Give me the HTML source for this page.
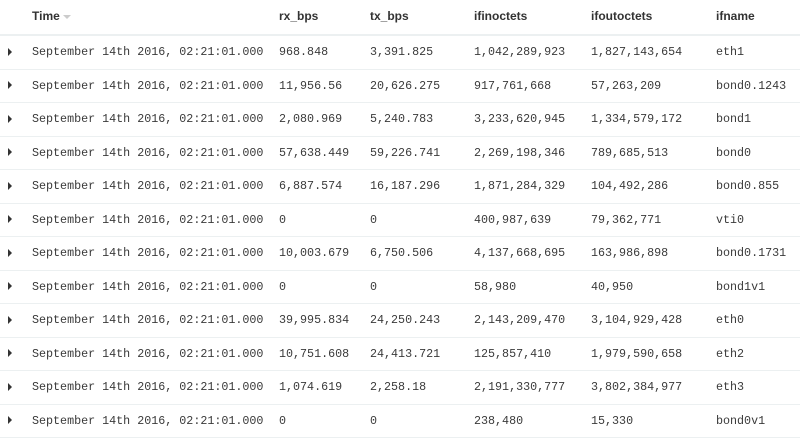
<!DOCTYPE html>
<html><head><meta charset="utf-8"><style>
body{margin:0;width:800px;height:433px;overflow:hidden;background:#fff;font-family:"Liberation Sans",sans-serif;}
table{border-collapse:collapse;position:absolute;left:0;top:0;width:800px;}
th{height:32px;text-align:left;font-weight:bold;font-size:12px;color:#333;border-bottom:2px solid #ecf0f1;padding:0 0 2px 0;}
td{height:32.5px;padding:0;font-family:"Liberation Mono",monospace;font-size:11.7px;color:#3a3a3a;border-bottom:1px solid #ecf0f1;white-space:nowrap;}
.tg{width:32px;text-align:left;padding-left:8px;box-sizing:border-box;font-size:8px;}
.tri{display:inline-block;width:0;height:0;vertical-align:middle;border-left:4px solid #333;border-top:4px solid transparent;border-bottom:4px solid transparent;}
.sort{display:inline-block;width:0;height:0;border-top:4px solid #ccc;border-left:4px solid transparent;border-right:4px solid transparent;margin-left:3px;vertical-align:middle;}
</style></head><body>
<table>
<colgroup><col style="width:32px"><col style="width:247px"><col style="width:91px"><col style="width:104px"><col style="width:117px"><col style="width:125px"><col></colgroup>
<thead><tr>
<th></th>
<th>Time<span class="sort"></span></th>
<th>rx_bps</th>
<th>tx_bps</th>
<th>ifinoctets</th>
<th>ifoutoctets</th>
<th>ifname</th>
</tr></thead>
<tbody id="tb"></tbody>
</table>
<script>
const rx=["968.848","11,956.56","2,080.969","57,638.449","6,887.574","0","10,003.679","0","39,995.834","10,751.608","1,074.619","0"];
const tx=["3,391.825","20,626.275","5,240.783","59,226.741","16,187.296","0","6,750.506","0","24,250.243","24,413.721","2,258.18","0"];
const ifin=["1,042,289,923","917,761,668","3,233,620,945","2,269,198,346","1,871,284,329","400,987,639","4,137,668,695","58,980","2,143,209,470","125,857,410","2,191,330,777","238,480"];
const ifout=["1,827,143,654","57,263,209","1,334,579,172","789,685,513","104,492,286","79,362,771","163,986,898","40,950","3,104,929,428","1,979,590,658","3,802,384,977","15,330"];
const ifname=["eth1","bond0.1243","bond1","bond0","bond0.855","vti0","bond0.1731","bond1v1","eth0","eth2","eth3","bond0v1"];
const tb=document.getElementById('tb');
for(let i=0;i<rx.length;i++){
 const tr=document.createElement('tr');
 
 
 const cells=['','September 14th 2016, 02:21:01.000',rx[i],tx[i],ifin[i],ifout[i],ifname[i]];
 const names=['expand-toggle','time-cell','rx-bps-cell','tx-bps-cell','ifinoctets-cell','ifoutoctets-cell','ifname-cell'];
 cells.forEach((c,j)=>{
  const td=document.createElement('td');
  
  
  if(j==0){td.className='tg';td.innerHTML='<span class="tri"></span>';}
  else td.textContent=c;
  tr.appendChild(td);
 });
 tb.appendChild(tr);
}
</script>
</body></html>
